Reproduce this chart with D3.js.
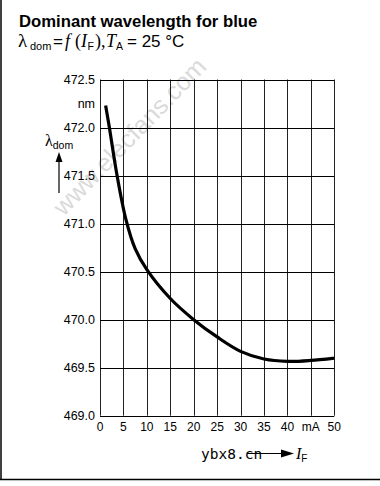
<!DOCTYPE html>
<html><head><meta charset="utf-8">
<script src="https://cdn.jsdelivr.net/npm/d3@7"></script>
<style>
html,body{margin:0;padding:0;background:#fff;}
svg{display:block;}
text{font-family:"Liberation Sans",Arial,sans-serif;fill:#000;}
.serif{font-family:"Liberation Serif","Times New Roman",serif;}
</style></head>
<body>
<svg id="c" width="380" height="486"></svg>
<script>
// ---- data ----
const currentMA = [1.2, 2, 3.5, 5.5, 7.5, 10, 15, 20, 25, 30, 35, 40, 45, 50];
const wavelengthNm = [472.23, 472.0, 471.54, 471.05, 470.74, 470.52, 470.22, 470.0, 469.82, 469.67, 469.59, 469.565, 469.575, 469.6];
const xTicks = [0, 5, 10, 15, 20, 25, 30, 35, 40, 45, 50];
const xTickLabels = ["0", "5", "10", "15", "20", "25", "30", "35", "40", "mA", "50"];
const yTicks = [469.0, 469.5, 470.0, 470.5, 471.0, 471.5, 472.0, 472.5];

const svg = d3.select("#c");
const L = 100, R = 334.3, T = 79.5, B = 415.7;
const x = d3.scaleLinear().domain([0, 50]).range([L, R]);
const y = d3.scaleLinear().domain([469, 472.5]).range([B, T]);

// frame (left & bottom border)
svg.append("line").attr("x1",1).attr("x2",1).attr("y1",0).attr("y2",480).attr("stroke","#000").attr("stroke-width",1.5);
svg.append("line").attr("x1",0).attr("x2",380).attr("y1",479.5).attr("y2",479.5).attr("stroke","#000").attr("stroke-width",1.5);

// watermark
svg.append("text").attr("transform","translate(131,138) rotate(-46)")
  .attr("text-anchor","middle").attr("dominant-baseline","middle")
  .style("font-size","25px").style("fill","#dadada").text("www.elecfans.com");

// grid
const g = svg.append("g");
g.selectAll("line.v").data(xTicks).enter().append("line")
  .attr("x1", d => Math.round(x(d)) + 0.5).attr("x2", d => Math.round(x(d)) + 0.5)
  .attr("y1", T).attr("y2", B).attr("stroke", "#222").attr("stroke-width", 1);
g.selectAll("line.h").data(yTicks).enter().append("line")
  .attr("x1", L).attr("x2", R)
  .attr("y1", d => Math.round(y(d)) + 0.5).attr("y2", d => Math.round(y(d)) + 0.5)
  .attr("stroke", "#000").attr("stroke-width", 1);

// y tick labels
svg.selectAll("text.yl").data(yTicks).enter().append("text")
  .attr("x", 95).attr("y", d => y(d)).attr("dy", "0.36em")
  .attr("text-anchor", "end").style("font-size", "12.5px")
  .text(d => d3.format(".1f")(d));
svg.append("text").attr("x", 95).attr("y", 103.5).attr("dy","0.36em").attr("text-anchor","end")
  .style("font-size","12.5px").text("nm");

// x tick labels
svg.selectAll("text.xl").data(xTicks).enter().append("text")
  .attr("x", d => x(d)).attr("y", 431).attr("text-anchor", "middle")
  .style("font-size", "12px").text((d, i) => xTickLabels[i]);

// y axis label with arrow
const yl = svg.append("text").attr("x", 45).attr("y", 146);
yl.append("tspan").attr("class","serif").style("font-size","16px").text("λ");
yl.append("tspan").attr("dy", 3).style("font-size","10.5px").text("dom");
svg.append("line").attr("x1",59).attr("x2",59).attr("y1",193).attr("y2",160).attr("stroke","#000").attr("stroke-width",1.2);
svg.append("path").attr("d","M59,152 L55.5,162 L62.5,162 Z").attr("fill","#000");

// x axis label with arrow
svg.append("text").attr("x", 201).attr("y", 459).style("font-family","'DejaVu Sans Mono','Liberation Mono',monospace")
  .style("font-size","14.5px").text("ybx8.cn");
svg.append("line").attr("x1",247).attr("x2",284).attr("y1",453.5).attr("y2",453.5).attr("stroke","#000").attr("stroke-width",1.2);
svg.append("path").attr("d","M294,453.5 L281,449.5 L281,457.5 Z").attr("fill","#000");
const xl = svg.append("text").attr("x", 296).attr("y", 459);
xl.append("tspan").attr("class","serif").style("font-style","italic").style("font-size","16px").text("I");
xl.append("tspan").attr("dy", 3).style("font-size","10px").text("F");

// title
svg.append("text").attr("x", 19).attr("y", 26.5).style("font-size","16.7px").style("font-weight","bold")
  .text("Dominant wavelength for blue");
const sub = svg.append("text").attr("y", 47);
sub.append("tspan").attr("x",18).attr("class","serif").style("font-size","19px").text("λ");
sub.append("tspan").attr("x",30).attr("dy",3).style("font-size","11px").text("dom");
sub.append("tspan").attr("x",53).attr("dy",-3).style("font-size","17px").text("=");
sub.append("tspan").attr("x",65).attr("class","serif").style("font-style","italic").style("font-size","18px").text("f");
sub.append("tspan").attr("x",75).attr("class","serif").style("font-size","18px").text("(");
sub.append("tspan").attr("x",81).attr("class","serif").style("font-style","italic").style("font-size","18px").text("I");
sub.append("tspan").attr("x",87.5).attr("dy",3).style("font-size","10.5px").text("F");
sub.append("tspan").attr("x",95).attr("dy",-3).attr("class","serif").style("font-size","18px").text("),");
sub.append("tspan").attr("x",106).attr("class","serif").style("font-style","italic").style("font-size","18px").text("T");
sub.append("tspan").attr("x",116).attr("dy",3).style("font-size","10.5px").text("A");
sub.append("tspan").attr("x",127).attr("dy",-3).style("font-size","17px").text("= 25 °C");

// curve
const line = d3.line().x(d => x(d[0])).y(d => y(d[1])).curve(d3.curveCatmullRom.alpha(0.5));
svg.append("path").datum(currentMA.map((c, i) => [c, wavelengthNm[i]]))
  .attr("d", line).attr("fill", "none").attr("stroke", "#000").attr("stroke-width", 3.2);
</script>
</body></html>
